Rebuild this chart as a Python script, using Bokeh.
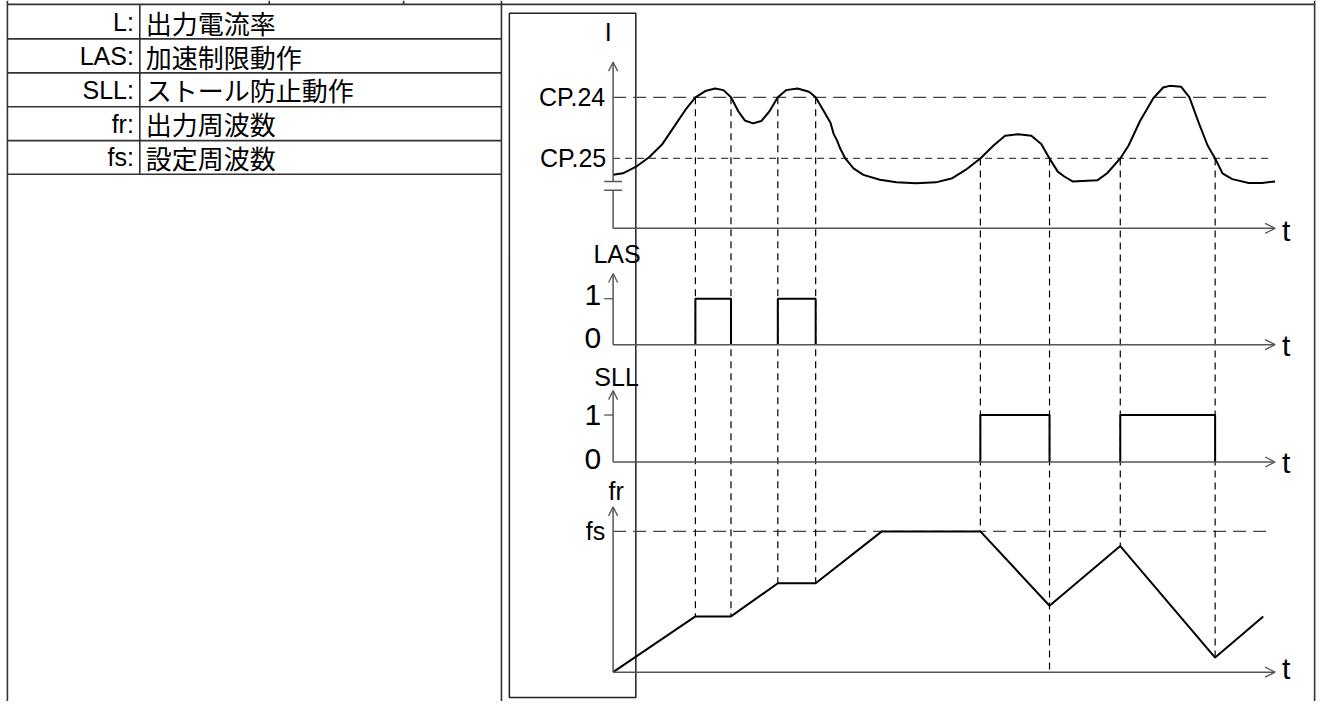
from bokeh.plotting import figure
from bokeh.models import Range1d, Arrow, OpenHead
from bokeh.core.properties import value
from bokeh.embed import file_html
from bokeh.resources import INLINE

# ---------------- data ----------------
legend_keys = ["L:", "LAS:", "SLL:", "fr:", "fs:"]
legend_desc = ["出力電流率", "加速制限動作", "ストール防止動作", "出力周波数", "設定周波数"]

cp24 = 150.0   # current level CP.24 (%)
cp25 = 80.0    # current level CP.25 (%)
fs_level = 100.0
t_end = 67.0

# output current curve (time, %)
t_cur = [0.0, 1.0, 2.33, 3.67, 5.0, 6.33, 7.33, 8.33, 9.33, 10.33, 11.17, 11.93,
         12.67, 13.33, 14.17, 15.0, 15.83, 16.67, 17.5, 18.67, 19.83, 20.5, 21.33,
         22.0, 22.33, 22.67, 23.0, 23.5, 24.33, 25.33, 27.0, 28.67, 30.67, 32.67,
         34.33, 35.67, 37.17, 38.5, 39.67, 41.0, 42.33, 43.33, 44.17, 45.0, 45.67,
         46.5, 49.0, 50.0, 51.33, 52.17, 53.33, 54.67, 55.67, 56.33, 57.5, 58.33,
         59.33, 60.17, 60.93, 61.67, 62.67, 64.33, 65.67, 67.0]
i_cur = [61.2, 63.0, 70.5, 81.7, 96.6, 119.0, 135.8, 150.0, 157.1, 160.1, 158.2, 150.0,
         134.0, 123.5, 120.1, 122.8, 134.0, 150.0, 158.2, 160.1, 156.4, 150.0, 134.0,
         120.9, 107.8, 100.4, 91.0, 80.0, 68.6, 61.2, 55.6, 52.6, 51.5, 52.6,
         57.4, 66.8, 80.0, 94.8, 106.0, 107.8, 106.0, 96.6, 80.0, 64.9, 59.3,
         53.7, 54.9, 63.0, 80.0, 94.8, 122.8, 148.9, 161.2, 163.1, 162.0, 150.0,
         119.0, 94.8, 80.0, 63.0, 56.3, 51.8, 51.8, 53.7]

# LAS / SLL active intervals (start, stop)
las_start = [8.33, 16.67]
las_stop = [11.93, 20.5]
sll_start = [37.17, 51.33]
sll_stop = [44.17, 60.93]

# output frequency (time, % of fs)
t_fr = [0.0, 8.33, 11.93, 16.67, 20.5, 27.2, 37.17, 44.17, 51.33, 60.93, 65.8]
fr_vals = [0.0, 39.6, 39.6, 63.2, 63.2, 100.0, 100.0, 47.2, 89.6, 10.4, 39.6]

# dashed guide lines: time, level reached on fr
las_edges = [8.33, 11.93, 16.67, 20.5]
las_edge_fr = [39.6, 39.6, 63.2, 63.2]
sll_edges = [37.17, 44.17, 51.33, 60.93]
sll_edge_fr = [100.0, 0.0, 89.6, 10.4]

# ---------------- layout / scales ----------------
W, H = 1325, 701
REF_L, REF_R = 0.0, 1341.0
REF_TOP, REF_BOT = 0.0, 717.0
T0, TS = 620.0, 10.0              # time origin and px per time unit
PANELS = {"cur": (233.0, 134.0 / 150.0),
          "las": (352.0, 47.0),
          "sll": (472.0, 48.0),
          "fr": (687.0, 1.44)}

def tx(t):
    return T0 + t * TS

def py(panel, v):
    b, s = PANELS[panel]
    return b - v * s

p = figure(width=W, height=H, output_backend="svg", toolbar_location=None,
           x_range=Range1d(REF_L, REF_R), y_range=Range1d(REF_BOT, REF_TOP),
           x_axis_type=None, y_axis_type=None, min_border=0)
p.outline_line_color = None
p.background_fill_color = "white"
p.border_fill_color = "white"
p.extra_x_ranges = {"time": Range1d((REF_L - T0) / TS, (REF_R - T0) / TS)}
p.extra_y_ranges = {k: Range1d((b - REF_BOT) / s, (b - REF_TOP) / s) for k, (b, s) in PANELS.items()}

LAT = value("Liberation Sans")
CJK = value("Noto Sans CJK JP")
TBL = "#333333"
AX = "#555555"

# ---------------- table frame ----------------
row_lines = [39.3, 74.0, 108.7, 143.3, 177.7]
p.segment(x0=[7, 7, 141, 507, 1330, 272, 408], y0=[4, 0, 4, 0, 0, 0, 0],
          x1=[1330, 7, 141, 507, 1330, 272, 408], y1=[4, 717, 177.7, 717, 717, 4, 4],
          line_color=TBL, line_width=1.6)
p.segment(x0=[7] * 5, y0=row_lines, x1=[507] * 5, y1=row_lines, line_color=TBL, line_width=1.6)
p.quad(left=[515], right=[643], top=[13], bottom=[713], fill_color=None,
       line_color="#222222", line_width=1.5)

row_centers = [22.0, 57.0, 91.5, 126.0, 160.5]
p.text(x=[135] * 5, y=row_centers, text=legend_keys, text_font=LAT, text_font_size="25px",
       text_align="right", text_baseline="middle", text_color="black")
p.text(x=[147] * 5, y=row_centers, text=legend_desc, text_font=CJK, text_font_size="26px",
       text_align="left", text_baseline="middle", text_color="black")

# ---------------- axes ----------------
def haxis(panel):
    y = py(panel, 0)
    p.add_layout(Arrow(end=OpenHead(size=10, line_color=AX, line_width=1.3),
                       x_start=tx(0), y_start=y, x_end=tx(t_end), y_end=y,
                       line_color=AX, line_width=1.5))

def vaxis(panel, top, bottom=0.0):
    p.add_layout(Arrow(end=OpenHead(size=9, line_color=AX, line_width=1.3),
                       x_start=tx(0), y_start=py(panel, bottom), x_end=tx(0), y_end=py(panel, top),
                       line_color=AX, line_width=1.5))

for pn in ["cur", "las", "sll", "fr"]:
    haxis(pn)
# current axis with break
brk_lo, brk_hi = 43.7, 53.7
p.segment(x0=[tx(0)], y0=[py("cur", 0)], x1=[tx(0)], y1=[py("cur", brk_lo)], line_color=AX, line_width=1.5)
vaxis("cur", 190.3, brk_hi)
p.segment(x0=[611, 611], y0=[py("cur", brk_lo), py("cur", brk_hi)], x1=[629, 629],
          y1=[py("cur", brk_lo), py("cur", brk_hi)], line_color=AX, line_width=1.5)
vaxis("las", 1.55)
vaxis("sll", 1.52)
vaxis("fr", 117.4)
# "1" ticks
p.segment(x0=[611, 611], y0=[py("las", 1), py("sll", 1)], x1=[620, 620],
          y1=[py("las", 1), py("sll", 1)], line_color=AX, line_width=1.3)

# ---------------- level lines ----------------
p.line(x=[0, 66.8], y=[cp24, cp24], x_range_name="time", y_range_name="cur",
       line_color="#444444", line_width=1.3, line_dash="13 7")
p.line(x=[0, 66.8], y=[cp25, cp25], x_range_name="time", y_range_name="cur",
       line_color="#444444", line_width=1.3, line_dash="7 5")
p.line(x=[0, 66.8], y=[fs_level, fs_level], x_range_name="time", y_range_name="fr",
       line_color="#444444", line_width=1.3, line_dash="13 7")

# vertical guides
p.segment(x0=las_edges, y0=[py("cur", cp24)] * 4, x1=las_edges,
          y1=[py("fr", v) for v in las_edge_fr], x_range_name="time",
          line_color="black", line_width=1.2, line_dash="7 5")
p.segment(x0=sll_edges, y0=[py("cur", cp25)] * 4, x1=sll_edges,
          y1=[py("fr", v) for v in sll_edge_fr], x_range_name="time",
          line_color="black", line_width=1.2, line_dash="7 5")

# ---------------- signals ----------------
p.line(x=t_cur, y=i_cur, x_range_name="time", y_range_name="cur",
       line_color="black", line_width=2, line_join="round")
p.multi_line(xs=[[a, a, b, b] for a, b in zip(las_start, las_stop)],
             ys=[[0, 1, 1, 0] for _ in las_start], x_range_name="time", y_range_name="las",
             line_color="black", line_width=2)
p.multi_line(xs=[[a, a, b, b] for a, b in zip(sll_start, sll_stop)],
             ys=[[0, 1, 1, 0] for _ in sll_start], x_range_name="time", y_range_name="sll",
             line_color="black", line_width=2)
p.line(x=t_fr, y=fr_vals, x_range_name="time", y_range_name="fr",
       line_color="black", line_width=2)

# ---------------- labels ----------------
def lab(x, y, s, align="center", size="25px"):
    p.text(x=[x], y=[y], text=[s], text_font=LAT, text_font_size=size,
           text_align=align, text_baseline="middle", text_color="black")

lab(615, 32, "I")
lab(612, py("cur", cp24), "CP.24", "right")
lab(613, py("cur", cp25), "CP.25", "right")
lab(624, 259, "LAS")
lab(608, 301, "1", "right", "30px")
lab(608, 345, "0", "right", "30px")
lab(623.5, 385, "SLL")
lab(608, 424, "1", "right", "30px")
lab(608, 469, "0", "right", "30px")
lab(623, 502, "fr")
lab(612, py("fr", fs_level), "fs", "right")
for yy in [235, 353, 472.5, 683]:
    lab(1297, yy, "t", "left", "30px")

open("out.html", "w").write(file_html(p, INLINE))
